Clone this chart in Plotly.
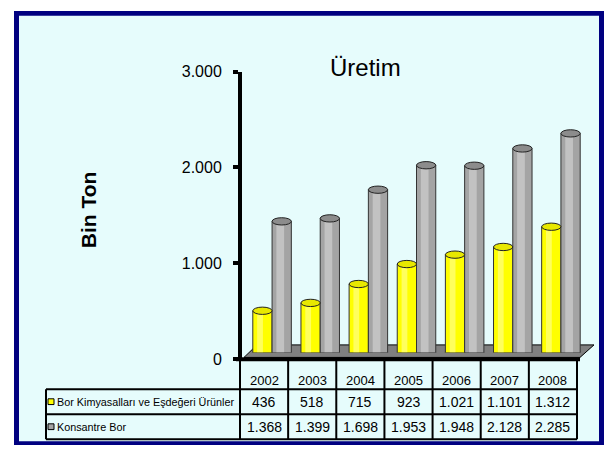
import plotly.graph_objects as go

years = ["2002", "2003", "2004", "2005", "2006", "2007", "2008"]
bor_kimyasal = [436, 518, 715, 923, 1021, 1101, 1312]
konsantre = [1368, 1399, 1698, 1953, 1948, 2128, 2285]
series_names = ["Bor Kimyasalları ve Eşdeğeri Ürünler", "Konsantre Bor"]
y_ticks = [0, 1000, 2000, 3000]
y_ticktext = ["0", "1.000", "2.000", "3.000"]

W, H = 604, 454
def px(x):
    return x / W
def py(y):
    return 1 - y / H

def fmt(v):
    return f"{v:,}".replace(",", ".")

YELLOW = "#FFFF00"
YELLOW_TOP = "#E8E800"
GRAY = "#A4A4A4"
GRAY_TOP = "#8C8C8C"
SANS = "Liberation Sans, Arial"

# geometry (pixels)
col_left, col_right = 240, 577
ncol = len(years)
colw = (col_right - col_left) / ncol
dx, dy = 8, 7   # depth offset of bars
y0_pix, y3000_pix = 365, 66

n = len(years)
idx = list(range(n))
bw = 0.40

fig = go.Figure()

fig.add_trace(go.Bar(x=[i - 0.2 for i in idx], y=bor_kimyasal, width=bw,
                     marker=dict(color=YELLOW, line=dict(color="#333333", width=1)),
                     name=series_names[0], showlegend=False, hoverinfo="y"))
fig.add_trace(go.Bar(x=[i + 0.2 for i in idx], y=konsantre, width=bw,
                     marker=dict(color=GRAY, line=dict(color="#333333", width=1)),
                     name=series_names[1], showlegend=False, hoverinfo="y"))
fig.add_trace(go.Bar(x=[i - 0.2 - 0.05 for i in idx], y=bor_kimyasal, width=0.12,
                     marker=dict(color="rgba(255,255,170,0.55)", line=dict(width=0)),
                     showlegend=False, hoverinfo="skip"))
fig.add_trace(go.Bar(x=[i + 0.2 - 0.03 for i in idx], y=konsantre, width=0.16,
                     marker=dict(color="rgba(215,215,215,0.6)", line=dict(width=0)),
                     showlegend=False, hoverinfo="skip"))

# dummy trace for the visible value axis
fig.add_trace(go.Scatter(x=[0], y=[0], xaxis="x2", yaxis="y2", mode="markers",
                         marker=dict(opacity=0), showlegend=False, hoverinfo="skip"))

shapes = []
shapes.append(dict(type="rect", xref="paper", yref="paper", x0=px(14), x1=px(604),
                   y0=py(454), y1=py(3), fillcolor="#000080", line=dict(width=0), layer="below"))
shapes.append(dict(type="rect", xref="paper", yref="paper", x0=px(19), x1=px(599),
                   y0=py(450), y1=py(8), fillcolor="#E6FCFC", line=dict(width=0), layer="below"))
shapes.append(dict(type="path", xref="paper", yref="paper",
                   path=f"M {px(244)} {py(363)} L {px(580)} {py(363)} L {px(594)} {py(350)} L {px(257)} {py(350)} Z",
                   fillcolor="#808080", line=dict(color="#000000", width=1), layer="below"))

ey = 38
for i in idx:
    for xc, v, c, ct in [(i - 0.2, bor_kimyasal[i], YELLOW, YELLOW_TOP),
                         (i + 0.2, konsantre[i], GRAY, GRAY_TOP)]:
        shapes.append(dict(type="circle", xref="x", yref="y", x0=xc - bw / 2, x1=xc + bw / 2,
                           y0=-ey, y1=ey, fillcolor=c, line=dict(color="#333333", width=1),
                           layer="below"))
        shapes.append(dict(type="circle", xref="x", yref="y", x0=xc - bw / 2, x1=xc + bw / 2,
                           y0=v - ey, y1=v + ey, fillcolor=ct, line=dict(color="#222222", width=1),
                           layer="above"))

shapes.append(dict(type="line", xref="paper", yref="paper", x0=px(236), x1=px(580),
                   y0=py(365), y1=py(365), line=dict(color="black", width=4)))

tl = dict(color="black", width=2)
for yy in [396, 422, 448]:
    shapes.append(dict(type="line", xref="paper", yref="paper", x0=px(46), x1=px(col_right),
                       y0=py(yy), y1=py(yy), line=tl))
shapes.append(dict(type="line", xref="paper", yref="paper", x0=px(46), x1=px(46),
                   y0=py(396), y1=py(448), line=tl))
for k in range(ncol + 1):
    xx = col_left + k * colw
    shapes.append(dict(type="line", xref="paper", yref="paper", x0=px(xx), x1=px(xx),
                       y0=py(366), y1=py(448), line=tl))
for yc, c in [(409, YELLOW), (435, GRAY)]:
    shapes.append(dict(type="rect", xref="paper", yref="paper", x0=px(48), x1=px(54),
                       y0=py(yc + 3), y1=py(yc - 3), fillcolor=c,
                       line=dict(color="black", width=1)))

annotations = []
annotations.append(dict(text="Üretim", xref="paper", yref="paper", x=px(365), y=py(62),
                        showarrow=False, font=dict(family=SANS, size=24, color="black"),
                        xanchor="center", yanchor="middle"))
annotations.append(dict(text="<b>Bin Ton</b>", xref="paper", yref="paper", x=px(88), y=py(210),
                        showarrow=False, textangle=-90,
                        font=dict(family=SANS, size=21, color="black"),
                        xanchor="center", yanchor="middle"))
for k, yr in enumerate(years):
    xc = col_left + (k + 0.5) * colw
    annotations.append(dict(text=yr, xref="paper", yref="paper", x=px(xc), y=py(387),
                            showarrow=False, font=dict(family=SANS, size=13, color="black"),
                            xanchor="center", yanchor="middle"))
    annotations.append(dict(text=fmt(bor_kimyasal[k]), xref="paper", yref="paper", x=px(xc), y=py(409),
                            showarrow=False, font=dict(family=SANS, size=14, color="black"),
                            xanchor="center", yanchor="middle"))
    annotations.append(dict(text=fmt(konsantre[k]), xref="paper", yref="paper", x=px(xc), y=py(435),
                            showarrow=False, font=dict(family=SANS, size=14, color="black"),
                            xanchor="center", yanchor="middle"))
for yc, name in [(409, series_names[0]), (435, series_names[1])]:
    annotations.append(dict(text=name, xref="paper", yref="paper", x=px(55), y=py(yc),
                            showarrow=False, font=dict(family=SANS, size=10.8, color="black"),
                            xanchor="left", yanchor="middle"))

fig.update_layout(
    width=W, height=H,
    margin=dict(l=0, r=0, t=0, b=0),
    paper_bgcolor="white",
    plot_bgcolor="rgba(0,0,0,0)",
    barmode="overlay",
    showlegend=False,
    xaxis=dict(domain=[px(col_left + dx), px(col_right + dx)], range=[-0.5, n - 0.5],
               visible=False, fixedrange=True),
    yaxis=dict(domain=[py(y0_pix - dy), py(y3000_pix - dy)], range=[0, 3000],
               visible=False, fixedrange=True),
    xaxis2=dict(domain=[px(242), px(col_right)], range=[0, 1], visible=False,
                anchor="y2", fixedrange=True),
    yaxis2=dict(domain=[py(y0_pix), py(y3000_pix)], range=[0, 3000], anchor="x2",
                showgrid=False, zeroline=False, showline=True, fixedrange=True,
                linecolor="black", linewidth=4, ticks="outside", ticklen=5, tickwidth=4,
                tickcolor="black", tickvals=y_ticks, ticktext=y_ticktext,
                ticklabelstandoff=8,
                tickfont=dict(family=SANS, size=16, color="black")),
    shapes=shapes,
    annotations=annotations,
)

fig.write_html("out.html")
